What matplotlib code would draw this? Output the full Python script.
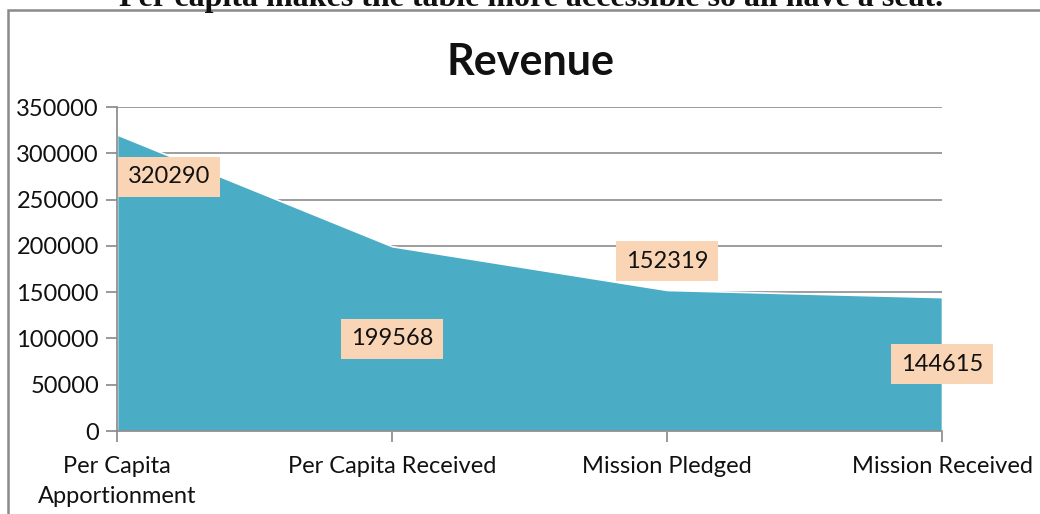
import numpy as np
import matplotlib.pyplot as plt
from matplotlib.patches import Rectangle

categories = ["Per Capita\nApportionment", "Per Capita Received", "Mission Pledged", "Mission Received"]
values = [320290, 199568, 152319, 144615]
# where each data label sits, as fraction of its value, and sideways shift in px
label_frac = [0.857, 0.498, 1.205, 0.50]
label_dx = [52, 0, 0, 0]

plt.rcParams['font.family'] = ['Lato', 'DejaVu Sans']

fig = plt.figure(figsize=(10.4, 5.14), dpi=100)
ax = fig.add_axes([117/1040, 1-431/514, 825/1040, 324/514])

x = np.arange(len(values))
ax.fill_between(x, values, 0, color="#4BACC6", edgecolor="white", linewidth=1.2, zorder=2)

ax.set_xlim(0, len(values)-1)
ax.set_ylim(0, 350000)
ax.set_yticks(np.arange(0, 350001, 50000))
ax.set_xticks(x)
ax.set_xticklabels(categories, fontsize=17, color="#111111", linespacing=1.55)
ax.tick_params(axis='y', labelsize=17, colors="#888888", labelcolor="#111111", length=8, width=1.2, pad=5)
ax.tick_params(axis='x', colors="#888888", labelcolor="#111111", length=8, width=1.2, pad=10)
ax.grid(axis='y', color="#8c8c8c", linewidth=1.2, zorder=1)
ax.set_axisbelow(True)
for s in ['top', 'right']:
    ax.spines[s].set_visible(False)
ax.spines['left'].set_color("#888888")
ax.spines['bottom'].set_color("#888888")
ax.spines['left'].set_linewidth(1.2)
ax.spines['bottom'].set_linewidth(1.2)

for i, v in enumerate(values):
    ax.annotate(str(v), (i, v*label_frac[i]), xytext=(label_dx[i]*0.72, 0), textcoords='offset points',
                ha='center', va='center', fontsize=17, color="#111111", zorder=5,
                bbox=dict(boxstyle='square,pad=0.4', fc="#FAD5B5", ec="none"))

fig.text(530/1040, 1-62/514, "Revenue", ha='center', va='center', fontsize=31, fontweight='bold', color="#111111")

# cut-off caption above the chart frame
fig.text(531/1040, 1-6/514, "Per capita makes the table more accessible so all have a seat.",
         ha='center', va='baseline', fontsize=23, fontweight='bold', family=['Liberation Serif'], color="#111111")

fig.patches.append(Rectangle((8/1040, -0.1), 1.2, 1-10/514+0.1, transform=fig.transFigure,
                             fill=False, ec="#8a8a8a", lw=1.8, zorder=0))

fig.savefig("out.png", dpi=100)
